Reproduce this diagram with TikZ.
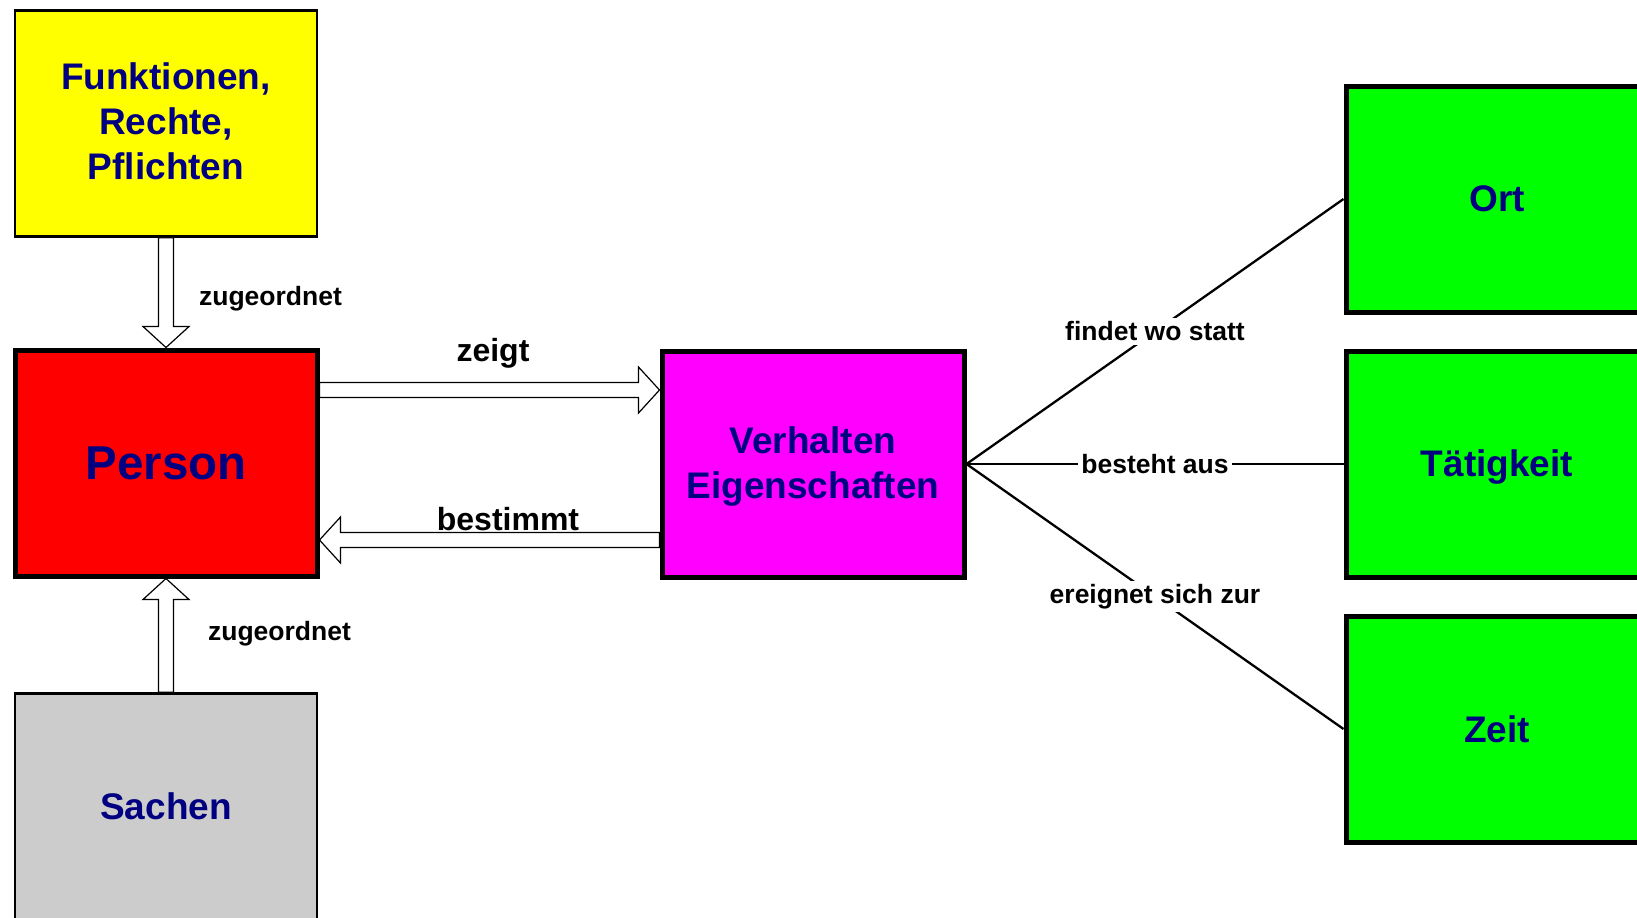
\documentclass[tikz,border=0pt]{standalone}
\usepackage{fontspec}
\setmainfont{Liberation Sans}
\usetikzlibrary{calc}
\definecolor{navytext}{HTML}{000080}
\definecolor{boxyellow}{HTML}{FFFF00}
\definecolor{boxred}{HTML}{FF0000}
\definecolor{boxmagenta}{HTML}{FF00FF}
\definecolor{boxgreen}{HTML}{00FF00}
\definecolor{boxgray}{HTML}{CCCCCC}
\newcommand{\hollowarrow}[2]{%
  \path ($(#2)!10.5pt!(#1)$) coordinate (hb);
  \draw[hollowarr] ($(#1)!3.75pt!90:(#2)$) -- ($(hb)!3.75pt!90:(#2)$) -- ($(hb)!11.5pt!90:(#2)$) -- (#2)
     -- ($(hb)!11.5pt!-90:(#2)$) -- ($(hb)!3.75pt!-90:(#2)$) -- ($(#1)!3.75pt!-90:(#2)$) -- cycle;
}
\begin{document}
\begin{tikzpicture}[x=0.5pt,y=-0.5pt,
  box/.style={draw, minimum width=151pt, minimum height=113pt, inner sep=0pt, align=center,
    text=navytext, font=\fontsize{18.5}{22.5}\selectfont\bfseries},
  thinbox/.style={box, line width=1.35pt},
  thickbox/.style={box, line width=2.5pt},
  hollowarr/.style={draw=black, fill=white, line width=0.6pt, line join=miter},
  lbl/.style={font=\fontsize{13.25}{16}\selectfont\bfseries, text=black},
  biglbl/.style={font=\fontsize{16}{19}\selectfont\bfseries, text=black},
  link/.style={line width=1.15pt},
  linklbl/.style={lbl, fill=white, inner sep=1.75pt}]
\useasboundingbox (0,0) rectangle (1637,917);
\clip (0,0) rectangle (1637,917);

\node[thinbox, fill=boxyellow] (funk) at (166,123.5) {\raisebox{-1pt}[\height][\depth]{\begin{tabular}{@{}c@{}}Funktionen,\\Rechte,\\Pflichten\end{tabular}}};
\node[thickbox, fill=boxred, font=\fontsize{23.75}{28}\selectfont\bfseries] (person) at (166,463) {Person};
\node[thinbox, fill=boxgray] (sachen) at (166,806.5) {Sachen};
\node[thickbox, fill=boxmagenta] (verh) at (813,464) {\raisebox{-1.5pt}[\height][\depth]{\begin{tabular}{@{}c@{}}Verhalten\\Eigenschaften\end{tabular}}};
\node[thickbox, fill=boxgreen] (ort) at (1497,199) {Ort};
\node[thickbox, fill=boxgreen] (taet) at (1497,464) {\raisebox{-1.5pt}[\height][\depth]{Tätigkeit}};
\node[thickbox, fill=boxgreen] (zeit) at (1497,729) {Zeit};

% hollow arrows
\coordinate (za) at ($(person.east)+(0,-73)$);
\coordinate (zb) at (za -| verh.west);
\coordinate (ba) at ($(verh.west)+(0,76)$);
\coordinate (bb) at (ba -| person.east);
\hollowarrow{funk.south}{person.north}
\hollowarrow{sachen.north}{person.south}
\hollowarrow{za}{zb}
\hollowarrow{ba}{bb}

\node[lbl, anchor=west] (zu1) at (192,299) {zugeordnet};
\node[lbl, anchor=west] (zu2) at (201,634) {zugeordnet};
\node[biglbl] (zeigt) at (493,353) {zeigt};
\node[biglbl] (best) at (508,519) {bestimmt};

% connectors to the right
\draw[link] (verh.east) -- node[linklbl] {findet wo statt} (ort.west);
\draw[link] (verh.east) -- node[linklbl] {besteht aus} (taet.west);
\draw[link] (verh.east) -- node[linklbl] {ereignet sich zur} (zeit.west);
\end{tikzpicture}
\end{document}
